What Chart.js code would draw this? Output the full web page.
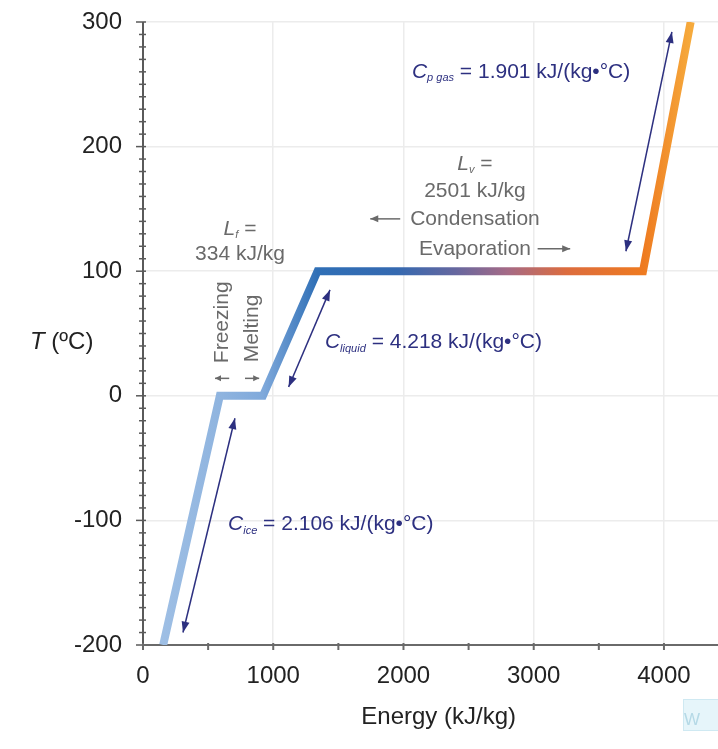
<!DOCTYPE html>
<html lang="en">
<head>
    <meta charset="UTF-8">
    <title>Heating curve of water</title>
    <style>
        html, body {
            margin: 0;
            padding: 0;
            background-color: white;
        }
        #wrap {
            position: relative;
            width: 718px;
            height: 749px;
        }
    </style>
</head>
<body>
    <div id="wrap">
        <canvas id="heatChart" width="718" height="749"></canvas>
    </div>

    <script src="https://cdn.jsdelivr.net/npm/chart.js"></script>
    <script>
        // Heating curve of water
        const energy = [155, 590, 921, 1340, 3839, 4205];   // kJ/kg
        const temperature = [-200, 0, 0, 100, 100, 300];    // degC
        const xTicks = [0, 1000, 2000, 3000, 4000];
        const yTicks = [-200, -100, 0, 100, 200, 300];

        // line colour along the energy axis
        const colorStops = [
            [0, '#a3c2e6'], [590, '#8fb4df'], [921, '#7fa9db'], [1340, '#2f6fb6'],
            [1950, '#3569b0'], [2400, '#66679f'], [2800, '#a56a86'], [3250, '#dc6c3e'],
            [3839, '#ee7a20'], [4205, '#f6aa3c']
        ];

        const FONT = "'Liberation Sans', Arial, sans-serif";
        const NAVY = '#2d3080';
        const GRAY = '#6a6a6a';

        function richText(ctx, parts, x, y, align, size, color) {
            let w = 0;
            const fontOf = p => (p.i ? 'italic ' : '') + (p.sub ? Math.round(size * 0.5) : size) + 'px ' + FONT;
            parts.forEach(p => { ctx.font = fontOf(p); w += ctx.measureText(p.t).width; });
            let cx = align === 'center' ? x - w / 2 : x;
            ctx.fillStyle = color;
            ctx.textAlign = 'left';
            ctx.textBaseline = 'middle';
            parts.forEach(p => {
                ctx.font = fontOf(p);
                ctx.fillText(p.t, cx, y + (p.sub ? size * 0.3 : 0));
                cx += ctx.measureText(p.t).width;
            });
        }

        function arrowHead(ctx, x1, y1, x2, y2, len, half) {
            const a = Math.atan2(y2 - y1, x2 - x1);
            ctx.beginPath();
            ctx.moveTo(x2, y2);
            ctx.lineTo(x2 - len * Math.cos(a) + half * Math.sin(a), y2 - len * Math.sin(a) - half * Math.cos(a));
            ctx.lineTo(x2 - len * Math.cos(a) - half * Math.sin(a), y2 - len * Math.sin(a) + half * Math.cos(a));
            ctx.closePath();
            ctx.fill();
        }

        function arrow(ctx, x1, y1, x2, y2, color, both, width, len, half) {
            ctx.strokeStyle = color;
            ctx.fillStyle = color;
            ctx.lineWidth = width;
            ctx.beginPath();
            ctx.moveTo(x1, y1);
            ctx.lineTo(x2, y2);
            ctx.stroke();
            arrowHead(ctx, x1, y1, x2, y2, len, half);
            if (both) arrowHead(ctx, x2, y2, x1, y1, len, half);
        }

        const overlay = {
            id: 'overlay',
            beforeDatasetsDraw(chart) {
                const ctx = chart.ctx;
                const xs = chart.scales.x, ys = chart.scales.y;
                const area = chart.chartArea;
                ctx.save();
                ctx.strokeStyle = '#5a5a5a';
                ctx.lineWidth = 2;
                // y axis with minor ticks every 10
                ctx.beginPath();
                ctx.moveTo(area.left, area.top);
                ctx.lineTo(area.left, area.bottom);
                ctx.stroke();
                ctx.lineWidth = 1.5;
                for (let v = -200; v <= 300; v += 10) {
                    const py = ys.getPixelForValue(v);
                    const major = v % 100 === 0;
                    ctx.beginPath();
                    ctx.moveTo(area.left - (major ? 7 : 4), py);
                    ctx.lineTo(area.left + 3, py);
                    ctx.stroke();
                }
                // x axis with ticks every 500
                ctx.strokeStyle = '#6a6a6a';
                ctx.lineWidth = 2;
                ctx.beginPath();
                ctx.moveTo(area.left, area.bottom);
                ctx.lineTo(area.right, area.bottom);
                ctx.stroke();
                for (let v = 0; v <= 4000; v += 500) {
                    const px = xs.getPixelForValue(v);
                    ctx.beginPath();
                    ctx.moveTo(px, area.bottom - 2);
                    ctx.lineTo(px, area.bottom + 5);
                    ctx.stroke();
                }
                ctx.restore();
            },
            afterDatasetsDraw(chart) {
                const ctx = chart.ctx;
                const xs = chart.scales.x, ys = chart.scales.y;
                const X = v => xs.getPixelForValue(v), Y = v => ys.getPixelForValue(v);
                ctx.save();

                // heat capacity arrows
                arrow(ctx, X(307), Y(-190), X(706), Y(-18), NAVY, true, 1.5, 11, 4);
                arrow(ctx, X(1118), Y(7), X(1436), Y(85), NAVY, true, 1.5, 11, 4);
                arrow(ctx, X(3708), Y(116), X(4061), Y(292), NAVY, true, 1.5, 11, 4);

                // heat capacity labels
                richText(ctx, [{t: 'C', i: true}, {t: 'p gas', i: true, sub: true}, {t: ' = 1.901 kJ/(kg•°C)'}],
                    X(2065), Y(260), 'left', 21, NAVY);
                richText(ctx, [{t: 'C', i: true}, {t: 'liquid', i: true, sub: true}, {t: ' = 4.218 kJ/(kg•°C)'}],
                    X(1397), Y(43), 'left', 21, NAVY);
                richText(ctx, [{t: 'C', i: true}, {t: 'ice', i: true, sub: true}, {t: ' = 2.106 kJ/(kg•°C)'}],
                    X(653), Y(-103), 'left', 21, NAVY);

                // latent heat labels
                richText(ctx, [{t: 'L', i: true}, {t: 'f', i: true, sub: true}, {t: ' ='}], X(745), Y(134), 'center', 21, GRAY);
                richText(ctx, [{t: '334 kJ/kg'}], X(745), Y(114), 'center', 21, GRAY);
                richText(ctx, [{t: 'L', i: true}, {t: 'v', i: true, sub: true}, {t: ' ='}], X(2549), Y(186), 'center', 21, GRAY);
                richText(ctx, [{t: '2501 kJ/kg'}], X(2549), Y(164), 'center', 21, GRAY);
                richText(ctx, [{t: 'Condensation'}], X(2549), Y(142), 'center', 21, GRAY);
                richText(ctx, [{t: 'Evaporation'}], X(2549), Y(118), 'center', 21, GRAY);
                arrow(ctx, X(1975), Y(142), X(1745), Y(142), GRAY, false, 1.5, 8, 3.5);
                arrow(ctx, X(3030), Y(118), X(3280), Y(118), GRAY, false, 1.5, 8, 3.5);

                // freezing / melting
                ctx.save();
                ctx.translate(X(607), Y(59));
                ctx.rotate(-Math.PI / 2);
                richText(ctx, [{t: 'Freezing'}], 0, 0, 'center', 21, GRAY);
                ctx.restore();
                ctx.save();
                ctx.translate(X(837), Y(54));
                ctx.rotate(-Math.PI / 2);
                richText(ctx, [{t: 'Melting'}], 0, 0, 'center', 21, GRAY);
                ctx.restore();
                arrow(ctx, X(662), Y(14), X(553), Y(14), GRAY, false, 1.5, 6, 3);
                arrow(ctx, X(783), Y(14), X(892), Y(14), GRAY, false, 1.5, 6, 3);

                // axis titles
                richText(ctx, [{t: 'T', i: true}, {t: ' (ºC)'}], 30, Y(43), 'left', 24, '#222');
                richText(ctx, [{t: 'Energy (kJ/kg)'}], X(2270), 717, 'center', 24, '#222');

                // faint watermark box
                ctx.fillStyle = '#e6f5fa';
                ctx.strokeStyle = '#cfe9f2';
                ctx.lineWidth = 1;
                ctx.fillRect(683, 699, 35, 32);
                ctx.strokeRect(683.5, 699.5, 35, 31);
                richText(ctx, [{t: 'W'}], 684, 720, 'left', 17, '#b5d9e6');
                ctx.restore();
            }
        };

        const ctx = document.getElementById('heatChart').getContext('2d');
        const heatChart = new Chart(ctx, {
            type: 'line',
            data: {
                datasets: [{
                    label: 'Heating curve',
                    data: energy.map((e, i) => ({x: e, y: temperature[i]})),
                    borderColor: function (context) {
                        const chart = context.chart;
                        if (!chart.chartArea) return '#3569b0';
                        const xs = chart.scales.x;
                        const x0 = xs.getPixelForValue(0), x1 = xs.getPixelForValue(4205);
                        const g = chart.ctx.createLinearGradient(x0, 0, x1, 0);
                        colorStops.forEach(s => g.addColorStop(s[0] / 4205, s[1]));
                        return g;
                    },
                    borderWidth: 8,
                    borderJoinStyle: 'miter',
                    pointRadius: 0,
                    tension: 0,
                    fill: false
                }]
            },
            options: {
                responsive: false,
                animation: false,
                layout: { padding: { top: 22, right: 0, left: 0, bottom: 0 } },
                plugins: {
                    legend: { display: false },
                    tooltip: { enabled: false }
                },
                scales: {
                    x: {
                        type: 'linear',
                        min: 0,
                        max: 4415,
                        afterBuildTicks: s => { s.ticks = xTicks.map(v => ({value: v})); },
                        afterFit: s => { s.height = 104; s.paddingLeft = 0; s.paddingRight = 0; },
                        grid: { color: '#ececec', lineWidth: 1.5, drawTicks: false },
                        border: { display: false },
                        ticks: {
                            padding: 17,
                            maxRotation: 0,
                            color: '#222',
                            font: { family: FONT, size: 24 },
                            callback: v => String(v)
                        }
                    },
                    y: {
                        min: -200,
                        max: 300,
                        afterBuildTicks: s => { s.ticks = yTicks.map(v => ({value: v})); },
                        afterFit: s => { s.width = 143; s.paddingTop = 0; s.paddingBottom = 0; },
                        grid: { color: '#ececec', lineWidth: 1.5, drawTicks: false },
                        border: { display: false },
                        ticks: {
                            padding: 21,
                            color: '#222',
                            font: { family: FONT, size: 24 },
                            callback: v => String(v)
                        }
                    }
                }
            },
            plugins: [overlay]
        });
    </script>
</body>
</html>
